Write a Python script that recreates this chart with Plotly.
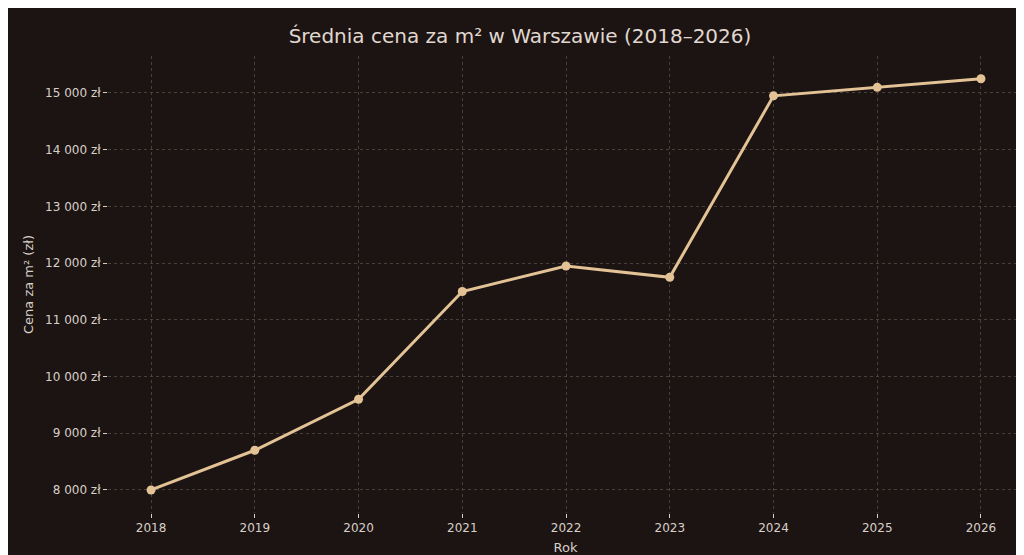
import plotly.graph_objects as go

years = [2018, 2019, 2020, 2021, 2022, 2023, 2024, 2025, 2026]
prices = [8000, 8700, 9600, 11500, 11950, 11750, 14950, 15100, 15250]
ytick_vals = [8000, 9000, 10000, 11000, 12000, 13000, 14000, 15000]
ytick_text = ["8 000 zł", "9 000 zł", "10 000 zł", "11 000 zł", "12 000 zł", "13 000 zł", "14 000 zł", "15 000 zł"]

fig = go.Figure(go.Scatter(x=years, y=prices, mode="lines+markers",
    line=dict(color="#e3c295", width=3), marker=dict(size=9, color="#e3c295")))
grid = dict(showgrid=True, gridcolor="#4a403a", griddash="3px,3px", gridwidth=1, zeroline=False,
            tickfont=dict(color="#d8d0c8", size=12), ticks="outside", tickcolor="#d8d0c8", ticklen=4,
            showline=False)
fig.update_layout(
    width=1024, height=555, paper_bgcolor="#1c1412", plot_bgcolor="#1c1412",
    font=dict(family="DejaVu Sans", color="#d8d0c8"),
    title=dict(text="Średnia cena za m² w Warszawie (2018–2026)", x=0.5, y=0.962, font=dict(size=20, color="#e0d8d0")),
    margin=dict(l=100, r=9, t=48, b=50), showlegend=False,
    xaxis=dict(title=dict(text="Rok", font=dict(size=13), standoff=8), tickvals=years, range=[2017.585, 2026.405], **grid),
    yaxis=dict(title=dict(text="Cena za m² (zł)", font=dict(size=13), standoff=8), tickvals=ytick_vals, ticktext=ytick_text,
               range=[7594, 15652], **grid),
)
fig.write_html("out.html")
